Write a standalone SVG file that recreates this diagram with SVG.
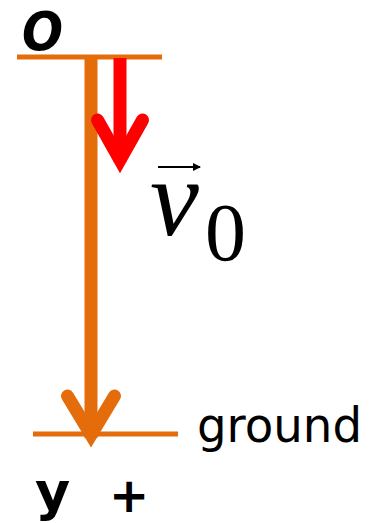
<svg xmlns="http://www.w3.org/2000/svg" width="379" height="523" viewBox="0 0 379 523">
<style>
.ln{stroke:#E46C0A;stroke-width:5;fill:none}
.shaft{stroke-width:13;fill:none;stroke-linecap:butt}
.head{stroke-width:13;fill:none;stroke-linecap:round;stroke-linejoin:miter;stroke-miterlimit:10}
.lbl{font-family:"DejaVu Sans",sans-serif;font-weight:bold;fill:#000}
.serif{font-family:"Liberation Serif","Times New Roman",serif;fill:#000}
</style>
<defs>
<marker id="vec" markerWidth="8" markerHeight="8" refX="7" refY="4" orient="auto" markerUnits="userSpaceOnUse" viewBox="0 0 8 8"><path d="M0,0 L8,4 L0,8 Z" fill="#000"/></marker>
</defs>
<g id="origin-line"><line class="ln" x1="17" y1="57" x2="162" y2="57"/></g>
<g id="ground-line"><line class="ln" x1="33" y1="434" x2="178" y2="434"/></g>
<g id="connectors">
<g id="y-axis">
<line class="shaft" stroke="#E46C0A" x1="91" y1="57" x2="91" y2="438"/>
<polyline class="head" stroke="#E46C0A" points="67.5,396 91,435 114.5,396"/>
</g>
<g id="v0-arrow">
<line class="shaft" stroke="#FF0000" x1="120" y1="58" x2="120" y2="162"/>
<polyline class="head" stroke="#FF0000" points="97.5,120 120,160 142.5,120"/>
</g>
</g>
<g id="label-O"><text class="lbl" x="22" y="50" font-size="54" font-style="oblique" textLength="41" lengthAdjust="spacingAndGlyphs">O</text></g>
<g id="label-v0">
<line x1="158" y1="167" x2="200" y2="167" stroke="#000" stroke-width="2.2" marker-end="url(#vec)"/>
<text class="serif" x="150" y="235" font-style="italic" font-size="110">v</text>
<text class="serif" x="205" y="260" font-size="82">0</text>
</g>
<g id="label-ground"><text x="197" y="442" font-family="'DejaVu Sans',sans-serif" font-size="48" textLength="165" lengthAdjust="spacingAndGlyphs">ground</text></g>
<g id="label-y"><text class="lbl" x="35" y="510" font-size="54">y</text></g>
<g id="label-plus"><text class="lbl" x="129" y="512" font-size="48" text-anchor="middle">+</text></g>
</svg>
